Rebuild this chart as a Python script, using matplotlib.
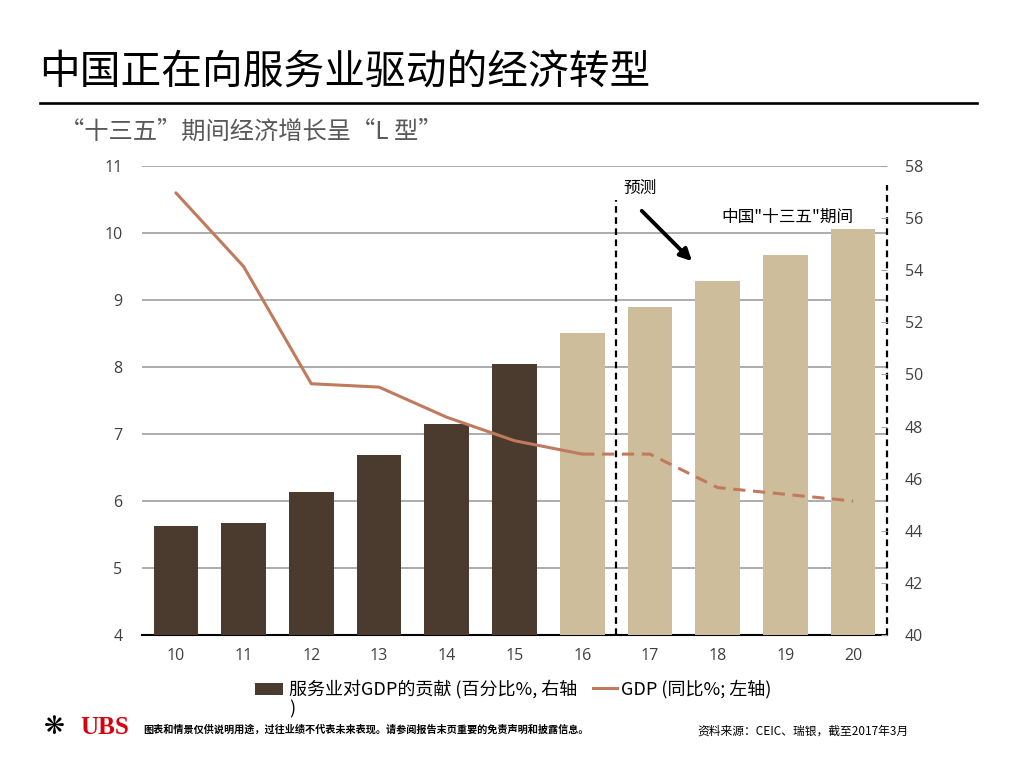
import matplotlib
matplotlib.use("Agg")
import matplotlib.pyplot as plt
from matplotlib.patches import Rectangle
from matplotlib.lines import Line2D

plt.rcParams["font.family"] = ["Noto Sans CJK SC", "DejaVu Sans"]

# data
years = [10, 11, 12, 13, 14, 15, 16, 17, 18, 19, 20]
services_share = [44.2, 44.3, 45.5, 46.9, 48.1, 50.4, 51.6, 52.6, 53.6, 54.6, 55.6]
gdp_growth = [10.6, 9.5, 7.75, 7.7, 7.25, 6.9, 6.7, 6.7, 6.2, 6.1, 6.0]
actual_until = 16
left_ticks = [4, 5, 6, 7, 8, 9, 10, 11]
right_ticks = [40, 42, 44, 46, 48, 50, 52, 54, 56, 58]

DARK = "#4b3a2e"
LIGHT = "#cdbd9b"
LINE = "#c07a5e"
GRID = "#a6a6a6"
TXT = "#404040"

W, H = 1024, 762
fig = plt.figure(figsize=(W / 100, H / 100), dpi=100)


def fx(px):
    return px / W


def fy(py):
    return 1 - py / H


ax = fig.add_axes([fx(142), fy(635), fx(887 - 142), (635 - 166) / H])
ax2 = ax.twinx()

# left axis: GDP growth, gridlines
ax.set_xlim(9.5, 20.5)
ax.set_ylim(4, 11)
ax.set_yticks(left_ticks)
ax.grid(axis="y", color=GRID, lw=1.3)
ax.set_axisbelow(True)
ax.tick_params(axis="y", length=0, pad=14, labelsize=11.5, labelcolor=TXT)
ax.tick_params(axis="x", length=0, pad=9, labelsize=11.5, labelcolor=TXT)
ax.set_xticks(years)
for s in ["top", "left", "right"]:
    ax.spines[s].set_visible(False)
ax.spines["bottom"].set_color("black")
ax.spines["bottom"].set_linewidth(1.5)

# right axis: services share bars
colors = [DARK if y <= 15 else LIGHT for y in years]
ax2.bar(years, services_share, width=0.66, color=colors, zorder=2)
ax2.set_ylim(40, 58)
ax2.set_yticks(right_ticks)
ax2.tick_params(axis="y", direction="in", length=4, color=GRID, pad=13,
                labelsize=11.5, labelcolor=TXT)
for s in ["top", "left", "right", "bottom"]:
    ax2.spines[s].set_visible(False)

for lab in ax.get_xticklabels() + ax.get_yticklabels() + ax2.get_yticklabels():
    lab.set_family(["Open Sans", "DejaVu Sans"])

# GDP line, drawn above bars but on the left scale
i = years.index(actual_until)
ax2.plot(years[:i + 1], gdp_growth[:i + 1], color=LINE, lw=2.2,
         transform=ax.transData, zorder=3, solid_capstyle="round")
ax2.plot(years[i:], gdp_growth[i:], color=LINE, lw=2.2, ls=(0, (4, 2.5)),
         transform=ax.transData, zorder=3)

# forecast separators
ax.axvline(16.5, ymin=0, ymax=0.927, color="black", lw=1.6, ls=(0, (3, 2)),
           zorder=4)
ax.axvline(20.5, ymin=0, ymax=0.96, color="black", lw=1.6, ls=(0, (3, 2)),
           zorder=4, clip_on=False)

ax2.annotate("", xy=(17.65, 9.55), xytext=(16.85, 10.36),
             xycoords=ax.transData, textcoords=ax.transData,
             arrowprops=dict(arrowstyle="-|>,head_length=0.7,head_width=0.35",
                             lw=2.8, color="black"), zorder=5)
ax2.text(16.6, 10.67, "预测", transform=ax.transData, fontsize=12,
         color="black", va="center", ha="left")
ax2.text(19.03, 10.24, "中国\"十三五\"期间", transform=ax.transData,
         fontsize=12, color="black", va="center", ha="center")

# titles
fig.text(fx(39), fy(73), "中国正在向服务业驱动的经济转型", fontsize=29.3,
         va="center", ha="left", color="black")
fig.add_artist(Line2D([fx(40), fx(977)], [fy(103), fy(103)], color="black",
                      lw=1.9))
fig.text(fx(60), fy(132), "“十三五”期间经济增长呈“L 型”", fontsize=17.5,
         va="center", ha="left", color="#595959")

# legend (drawn by hand to keep the wrapped first label)
fig.add_artist(Rectangle((fx(255), fy(695)), fx(28), 12 / H, facecolor=DARK,
                         edgecolor="none", transform=fig.transFigure))
fig.text(fx(289), fy(689), "服务业对GDP的贡献 (百分比%, 右轴", fontsize=13,
         va="center", ha="left", color="black")
fig.text(fx(289), fy(709), ")", fontsize=13, va="center", ha="left",
         color="black")
fig.add_artist(Line2D([fx(593), fx(617)], [fy(688), fy(688)], color=LINE,
                      lw=2.2))
fig.text(fx(621), fy(689), "GDP (同比%; 左轴)", fontsize=13, va="center",
         ha="left", color="black")

# footer
fig.text(fx(44), fy(727), "❋", fontsize=18, color="black", va="center",
         ha="left", family="DejaVu Sans")
fig.text(fx(80), fy(727), "UBS", fontsize=18, color="#d9000d", va="center",
         ha="left", family="Liberation Serif", fontweight="bold")
fig.text(fx(143), fy(730),
         "图表和情景仅供说明用途，过往业绩不代表未来表现。请参阅报告末页重要的免责声明和披露信息。",
         fontsize=7.3, color="black", va="center", ha="left", fontweight="bold")
fig.text(fx(697), fy(731), "资料来源：CEIC、瑞银，截至2017年3月", fontsize=8.5,
         color="black", va="center", ha="left")

fig.savefig("out.png", dpi=100)
